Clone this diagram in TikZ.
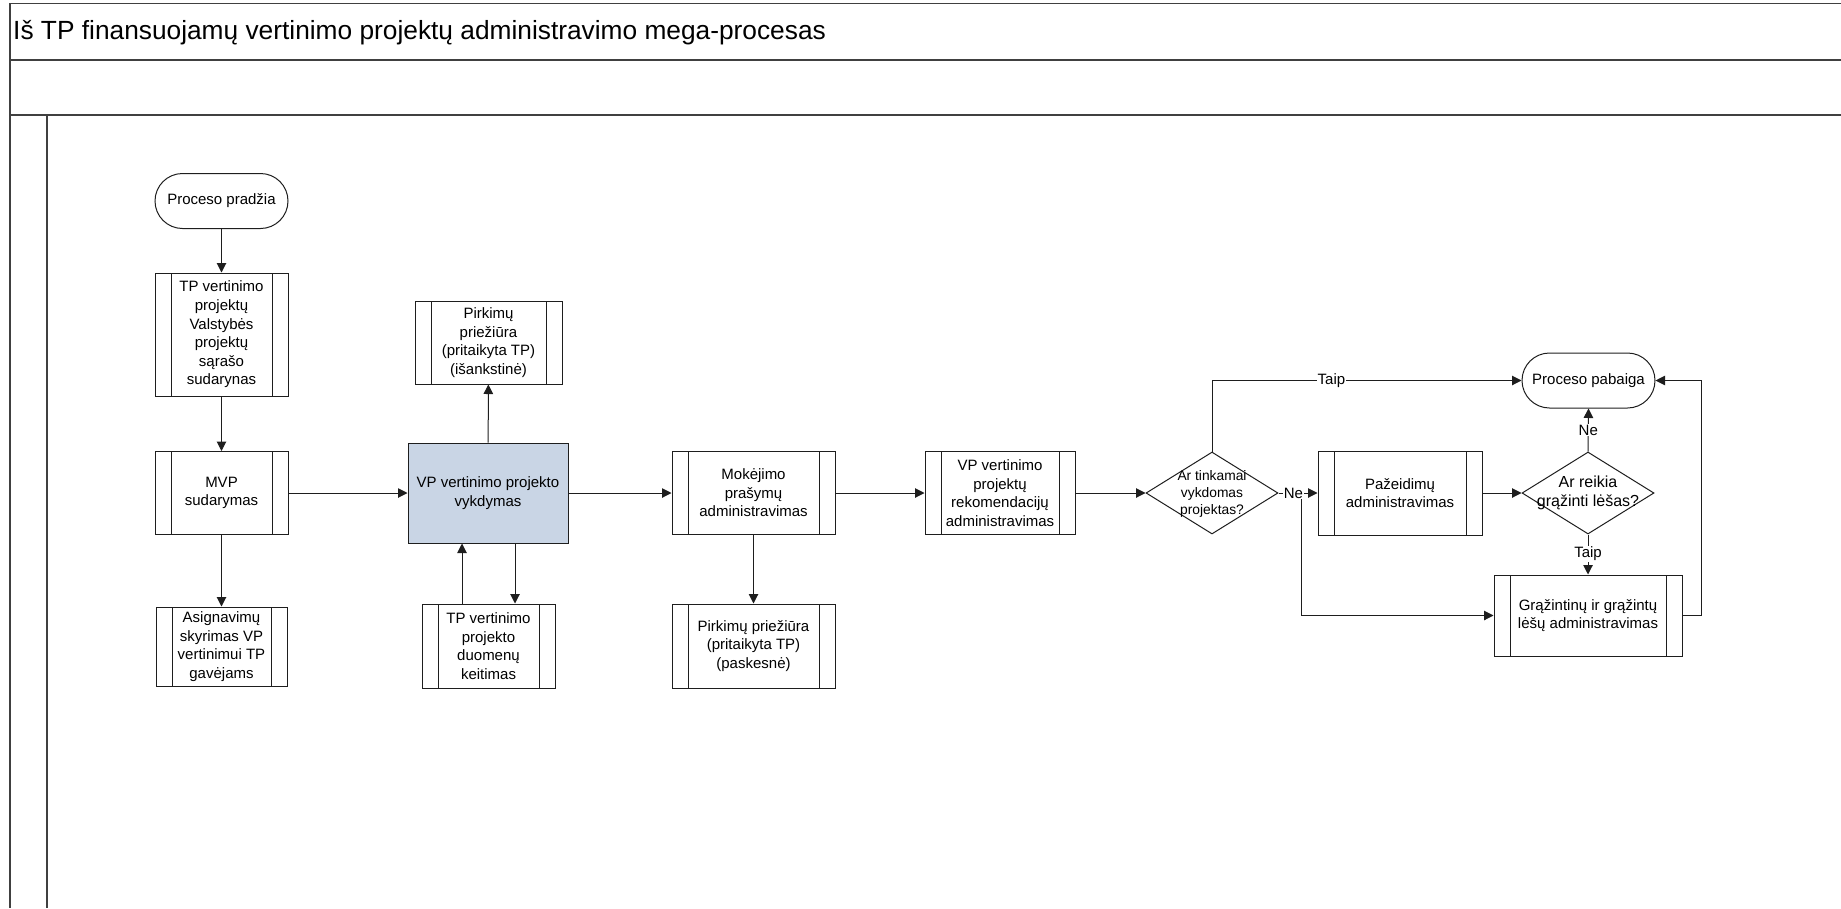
\documentclass[tikz,border=0pt]{standalone}
\usepackage{fontspec}
\setmainfont{Liberation Sans}
\usetikzlibrary{arrows.meta,shapes.geometric}
\definecolor{boxline}{HTML}{1E1E1E}
\definecolor{frameline}{HTML}{404040}
\definecolor{hilite}{HTML}{C9D5E5}
\tikzset{
  base/.style={draw=boxline, line width=1pt, align=center, inner sep=0pt,
    font=\fontsize{15}{18.6}\selectfont, text=black},
  proc/.style 2 args={base, rectangle, minimum width=#1, minimum height=#2,
    path picture={
      \draw[boxline, line width=1pt] ([xshift=16pt]path picture bounding box.north west) -- ([xshift=16pt]path picture bounding box.south west);
      \draw[boxline, line width=1pt] ([xshift=-16pt]path picture bounding box.north east) -- ([xshift=-16pt]path picture bounding box.south east);
    }},
  plainbox/.style 2 args={base, rectangle, minimum width=#1, minimum height=#2, fill=hilite},
  terminal/.style={base, rectangle, rounded corners=27.5pt, minimum width=133pt, minimum height=55pt},
  decision/.style={base, diamond, minimum width=132pt, minimum height=82pt},
  dectext/.style 2 args={align=center, inner sep=0pt, font=\fontsize{#1}{#2}\selectfont},
  arr/.style={draw=boxline, line width=1pt, -{Triangle[length=9.5pt,width=9.5pt]}},
  lbl/.style={fill=white, inner sep=1pt, font=\fontsize{15}{18}\selectfont},
  frame/.style={draw=frameline, line width=1.6pt}
}
\begin{document}
\begin{tikzpicture}[x=1pt,y=-1pt]
\useasboundingbox (0,0) rectangle (1841,908);
% frame
\draw[frame] (1841,3.5) -- (10,3.5) -- (10,908);
\draw[frame] (10,60) -- (1841,60);
\draw[frame] (10,115) -- (1841,115);
\draw[frame] (47,115) -- (47,908);
\node[anchor=base west, inner sep=0pt, font=\fontsize{26.3}{30}\selectfont] (title) at (13,39.3)
  {Iš TP finansuojamų vertinimo projektų administravimo mega-procesas};

% nodes
\node[terminal] (start) at (221.5,201) {Proceso pradžia};
\node[proc={133pt}{123pt}] (tpproj) at (221.5,334.5) {TP vertinimo\\projektų\\Valstybės\\projektų\\sąrašo\\sudarynas};
\node[proc={133pt}{83pt}] (mvp) at (221.5,493) {MVP\\sudarymas};
\node[proc={131pt}{79pt}] (asign) at (221.5,646.5) {Asignavimų\\skyrimas VP\\vertinimui TP\\gavėjams};
\node[proc={147pt}{83pt}] (pirk1) at (488.5,342.5) {Pirkimų\\priežiūra\\(pritaikyta TP)\\(išankstinė)};
\node[plainbox={160pt}{100pt}] (vykd) at (488,493) {VP vertinimo projekto\\vykdymas};
\node[proc={133pt}{84pt}] (keit) at (488.5,646) {TP vertinimo\\projekto\\duomenų\\keitimas};
\node[proc={163pt}{83pt}] (mok) at (753.5,493) {Mokėjimo\\prašymų\\administravimas};
\node[proc={163pt}{84pt}] (pirk2) at (753.5,646) {Pirkimų priežiūra\\(pritaikyta TP)\\(paskesnė)};
\node[proc={150pt}{83pt}] (rek) at (1000,493) {VP vertinimo\\projektų\\rekomendacijų\\administravimas};
\node[decision] (dec1) at (1212,493) {};
\node[dectext={13.8}{16.7}] (dec1t) at (1212,494) {Ar tinkamai\\vykdomas\\projektas?};
\node[proc={164pt}{84pt}] (paz) at (1400,493) {Pažeidimų\\administravimas};
\node[decision] (dec2) at (1588,493) {};
\node[dectext={16}{18.3}] (dec2t) at (1588,493) {Ar reikia\\grąžinti lėšas?};
\node[terminal] (end) at (1588.5,380.5) {Proceso pabaiga};
\node[proc={188pt}{81pt}] (graz) at (1588,615.5) {Grąžintinų ir grąžintų\\lėšų administravimas};
\coordinate (nebr) at (1301,493);

% connectors
\draw[arr] (start) -- (tpproj);
\draw[arr] (tpproj) -- (mvp);
\draw[arr] (mvp) -- (asign);
\draw[arr] (mvp) -- (vykd);
\draw[arr] (vykd) -- (pirk1);
\draw[arr] ([xshift=-26.5pt]keit.north) -- ([xshift=-26.5pt]keit.north |- vykd.south);
\draw[arr] ([xshift=26.5pt]keit.north |- vykd.south) -- ([xshift=26.5pt]keit.north);
\draw[arr] (vykd) -- (mok);
\draw[arr] (mok) -- (pirk2);
\draw[arr] (mok) -- (rek);
\draw[arr] (rek) -- (dec1);
\draw[arr] (dec1.north) |- node[lbl, pos=0.693] (taip1) {Taip} (end.west);
\draw[arr] (nebr) |- (graz.west);
\draw[arr] (dec1.east) -- node[lbl, pos=0.38] (ne1) {Ne} (paz.west);
\draw[arr] (paz) -- (dec2);
\draw[arr] (dec2.north) -- node[lbl, pos=0.5] (ne2) {Ne} (end.south);
\draw[arr] (dec2.south) -- node[lbl, pos=0.48] (taip2) {Taip} (graz.north);
\draw[arr] (graz.east) -- ++(19,0) |- (end.east);
\end{tikzpicture}
\end{document}
